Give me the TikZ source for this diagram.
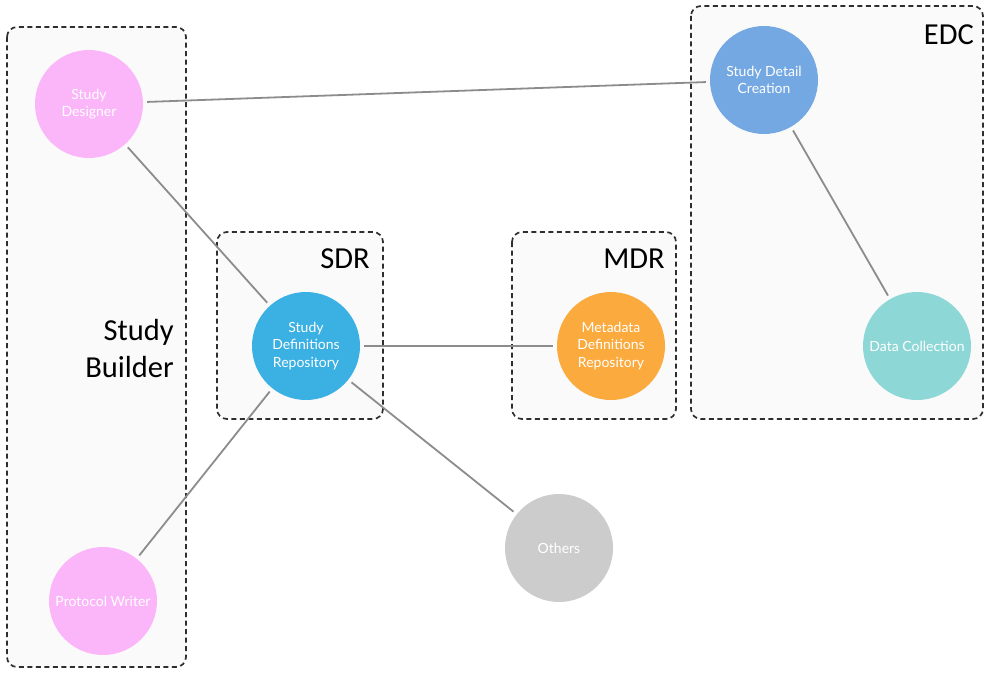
\documentclass[tikz,border=0pt]{standalone}
\usepackage{fontspec}
\setmainfont{Lato}
\newfontfamily\titlefont{Carlito}
\definecolor{boxfill}{HTML}{FAFAFA}
\definecolor{boxline}{HTML}{2E2E2E}
\definecolor{connc}{HTML}{8C8C8C}
\definecolor{pinkc}{HTML}{FBB6FA}
\definecolor{sdrc}{HTML}{3BB0E3}
\definecolor{mdrc}{HTML}{FBAA3E}
\definecolor{sdcc}{HTML}{74A8E2}
\definecolor{dcc}{HTML}{8DD7D6}
\definecolor{othc}{HTML}{CCCCCC}
\begin{document}
\begin{tikzpicture}[x=1pt,y=-1pt,
  groupbox/.style={draw=boxline, fill=boxfill, line width=1.7pt, dash pattern=on 5pt off 3.5pt, rounded corners=10pt},
  bubble/.style={circle, minimum size=108pt, inner sep=0pt, draw=none, text=white, align=center, font=\fontsize{14}{17.5}\selectfont},
  conn/.style={draw=connc, line width=1.8pt, shorten <=4pt, shorten >=4pt},
  grouptitle/.style={font=\titlefont\fontsize{30.5}{37}\selectfont, text=black, align=right, inner sep=0pt}
]
\useasboundingbox (0,0) rectangle (985,674);
% group boxes
\draw[groupbox] (7,27) rectangle (186,667);
\draw[groupbox] (217,232) rectangle (383,419);
\draw[groupbox] (512,232) rectangle (676,419);
\draw[groupbox] (691,6) rectangle (983,419);
% titles
\node[grouptitle, anchor=east] (tsb) at (174,349) {Study\\Builder};
\node[grouptitle, anchor=east] (tsdr) at (370,259) {SDR};
\node[grouptitle, anchor=east] (tmdr) at (665,259) {MDR};
\node[grouptitle, anchor=east] (tedc) at (974,35) {EDC};
% bubbles
\node[bubble, fill=pinkc] (sd) at (89,104) {Study\\Designer};
\node[bubble, fill=pinkc] (pw) at (103,601) {Protocol Writer};
\node[bubble, fill=sdrc] (sdr) at (306,346) {Study\\Definitions\\Repository};
\node[bubble, fill=mdrc] (mdr) at (611,346) {Metadata\\Definitions\\Repository};
\node[bubble, fill=sdcc] (sdc) at (764,80) {Study Detail\\Creation};
\node[bubble, fill=dcc] (dc) at (917,346) {Data Collection};
\node[bubble, fill=othc] (oth) at (559,548) {Others};
% connectors
\draw[conn] (sd) -- (sdc);
\draw[conn] (sd) -- (sdr);
\draw[conn] (pw) -- (sdr);
\draw[conn] (sdr) -- (mdr);
\draw[conn] (sdr) -- (oth);
\draw[conn] (sdc) -- (dc);
\end{tikzpicture}
\end{document}
